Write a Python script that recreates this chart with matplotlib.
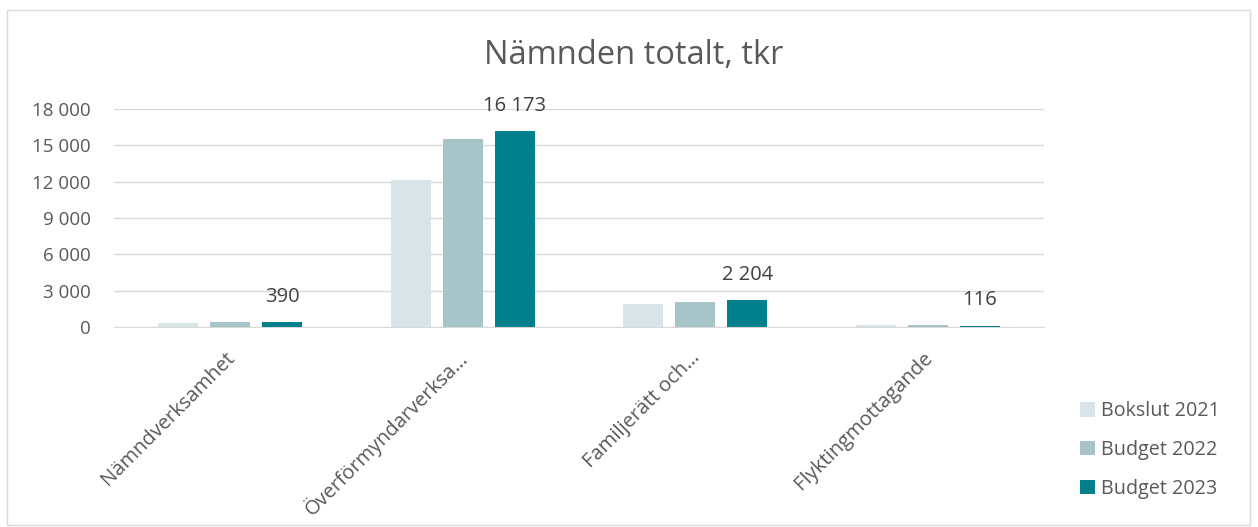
import numpy as np
import matplotlib.pyplot as plt
from matplotlib.patches import Rectangle
from matplotlib.ticker import FuncFormatter

plt.rcParams["font.family"] = ["Open Sans", "DejaVu Sans"]

categories = [
    "Nämndverksamhet",
    "Överförmyndarverksa…",
    "Familjerätt och…",
    "Flyktingmottagande",
]
series_names = ["Bokslut 2021", "Budget 2022", "Budget 2023"]
bokslut_2021 = [300, 12100, 1900, 180]
budget_2022 = [420, 15500, 2100, 150]
budget_2023 = [390, 16173, 2204, 116]
yticks = [0, 3000, 6000, 9000, 12000, 15000, 18000]

colors = ["#D9E4E8", "#A7C4C9", "#00808C"]
text_color = "#595959"

fig = plt.figure(figsize=(12.58, 5.27), dpi=100)
ax = fig.add_axes([114 / 1258, 1 - 327 / 527, 930 / 1258, 218 / 527])

# outer chart border
fig.patches.append(Rectangle((7 / 1258, 2 / 527), 1243 / 1258, 515 / 527,
                             transform=fig.transFigure, fill=False,
                             edgecolor="#D9D9D9", linewidth=1))

x = np.arange(len(categories))
width = 0.172
step = 0.224
all_series = [bokslut_2021, budget_2022, budget_2023]

for i, (vals, name) in enumerate(zip(all_series, series_names)):
    ax.bar(x + (i - 1) * step, vals, width, color=colors[i], label=name,
           zorder=3)

# data labels on the 2023 series
for xi, v in zip(x, budget_2023):
    ax.annotate(f"{v:,}".replace(",", " "), (xi + step, v),
                xytext=(0, 11), textcoords="offset points",
                ha="center", va="bottom", fontsize=14.5, color="#404040")

fmt = FuncFormatter(lambda v, p: f"{int(v):,}".replace(",", " "))
ax.set_yticks(yticks)
ax.yaxis.set_major_formatter(fmt)
ax.set_ylim(0, 18000)
ax.set_xlim(-0.5, len(categories) - 0.5)
ax.grid(axis="y", color="#D9D9D9", linewidth=1, zorder=0)

ax.set_xticks(x)
ax.set_xticklabels(categories, rotation=45, ha="right",
                   va="center_baseline", rotation_mode="anchor",
                   fontsize=14.5, color=text_color)
ax.tick_params(axis="y", length=0, labelsize=13.5, labelcolor=text_color,
               pad=17)
ax.tick_params(axis="x", length=0, pad=19)

for side in ["top", "right", "left"]:
    ax.spines[side].set_visible(False)
ax.spines["bottom"].set_color("#D9D9D9")

fig.text(634 / 1258, 1 - 55 / 527, "Nämnden totalt, tkr", ha="center",
         va="center", fontsize=23.5, color=text_color)

fig.legend(loc="center left", bbox_to_anchor=(1062 / 1258, 1 - 450 / 527),
           frameon=False, fontsize=14.2, handlelength=0.75,
           handleheight=0.75, labelspacing=0.95, handletextpad=0.35,
           labelcolor=text_color)

fig.savefig("out.png", dpi=100)
